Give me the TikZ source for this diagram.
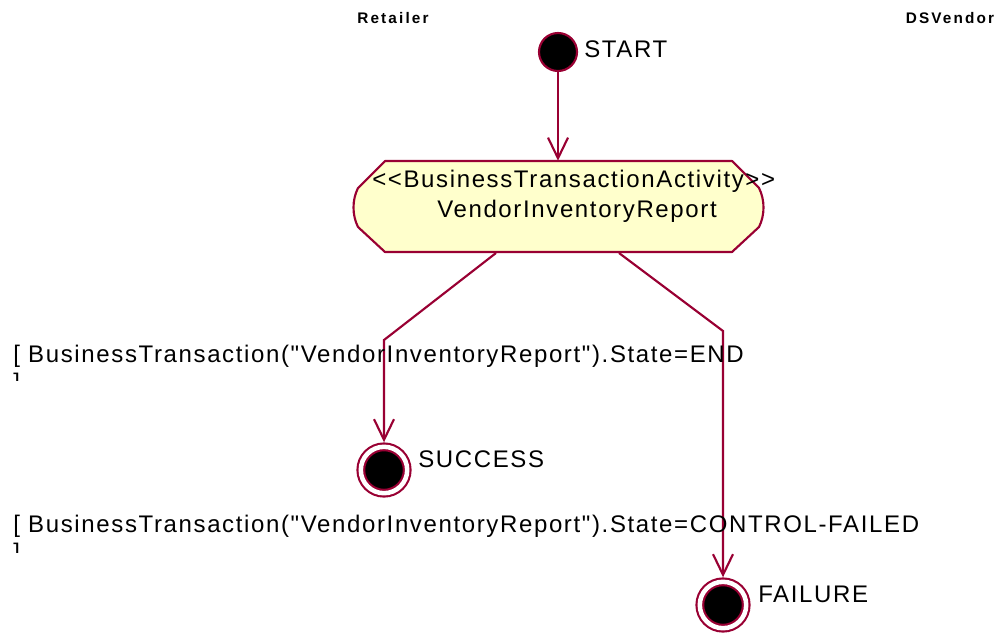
\documentclass[tikz,border=0pt]{standalone}
\usepackage{fontspec}
\setmainfont{Liberation Sans}
\newfontfamily\lblfont[LetterSpace=6.8]{Liberation Sans}
\newfontfamily\hdrfont[LetterSpace=14]{Liberation Sans}
\usetikzlibrary{arrows.meta}
\definecolor{dkred}{RGB}{153,0,51}
\definecolor{actfill}{RGB}{255,255,204}
\tikzset{
  lbl/.style={anchor=base west, inner sep=0pt, font=\lblfont\fontsize{18}{22}\selectfont},
  hdr/.style={anchor=base, inner sep=0pt, font=\hdrfont\bfseries\fontsize{11.5}{13}\selectfont},
  flow/.style={draw=dkred, line width=1.6pt, -{Straight Barb[length=15.5pt,width=15pt,line width=1.6pt]}},
  startnode/.style={circle, fill=black, draw=dkred, line width=1.6pt, minimum size=28.5pt, inner sep=0pt},
  endnode/.style={circle, fill=black, draw=dkred, double=white, double distance=3.4pt, line width=1.6pt, minimum size=34.8pt, inner sep=0pt, outer sep=3.4pt},
  actshape/.style={draw=dkred, fill=actfill, line width=1.6pt, line join=round}
}
\begin{document}
\begin{tikzpicture}[x=0.75pt, y=-0.75pt]
\useasboundingbox (0,0) rectangle (1005,632);
% swimlane headers
\node[hdr] (retailer) at (393,23) {Retailer};
\node[hdr] (dsvendor) at (950,23) {DSVendor};
% start
\node[startnode] (start) at (558,52) {};
\node[lbl] (startlbl) at (584,57) {START};
% activity
\path[actshape] (385,161) -- (732,161) -- (759,188) .. controls (765,200) and (765,215) .. (759,227) -- (732,252) -- (385,252) -- (358,227) .. controls (352,215) and (352,200) .. (358,188) -- cycle;
\node[inner sep=0pt, minimum width=408*0.75pt, minimum height=91*0.75pt] (act) at (558,206.5) {};
\node[lbl] (acttxt1) at (372,187) {<<BusinessTransactionActivity>>};
\node[lbl] (acttxt2) at (437,217) {VendorInventoryReport};
% end states
\node[endnode] (succ) at (384,470) {};
\node[lbl] (succlbl) at (418,467) {SUCCESS};
\node[endnode] (fail) at (723,605) {};
\node[lbl] (faillbl) at (758,602) {FAILURE};
% connectors
\draw[flow] (start.south) -- (start.south |- act.north);
\coordinate (l0) at (496,253);
\coordinate (l1) at (384,340);
\coordinate (r0) at (619,253);
\coordinate (r1) at (723,331);
\draw[flow] (l0) -- (l1) -- (succ.north);
\draw[flow] (r0) -- (r1) -- (fail.north);
% guards
\node[lbl] (g1) at (13,362) {[ BusinessTransaction("VendorInventoryReport").State=END};
\node[lbl] (g2) at (13,532) {[ BusinessTransaction("VendorInventoryReport").State=CONTROL-FAILED};
\begin{scope}
\clip (0,368) rectangle (60,380);
\node[lbl] (g1b) at (13,390) {]};
\end{scope}
\begin{scope}
\clip (0,540) rectangle (60,552);
\node[lbl] (g2b) at (13,560) {]};
\end{scope}
\end{tikzpicture}
\end{document}
